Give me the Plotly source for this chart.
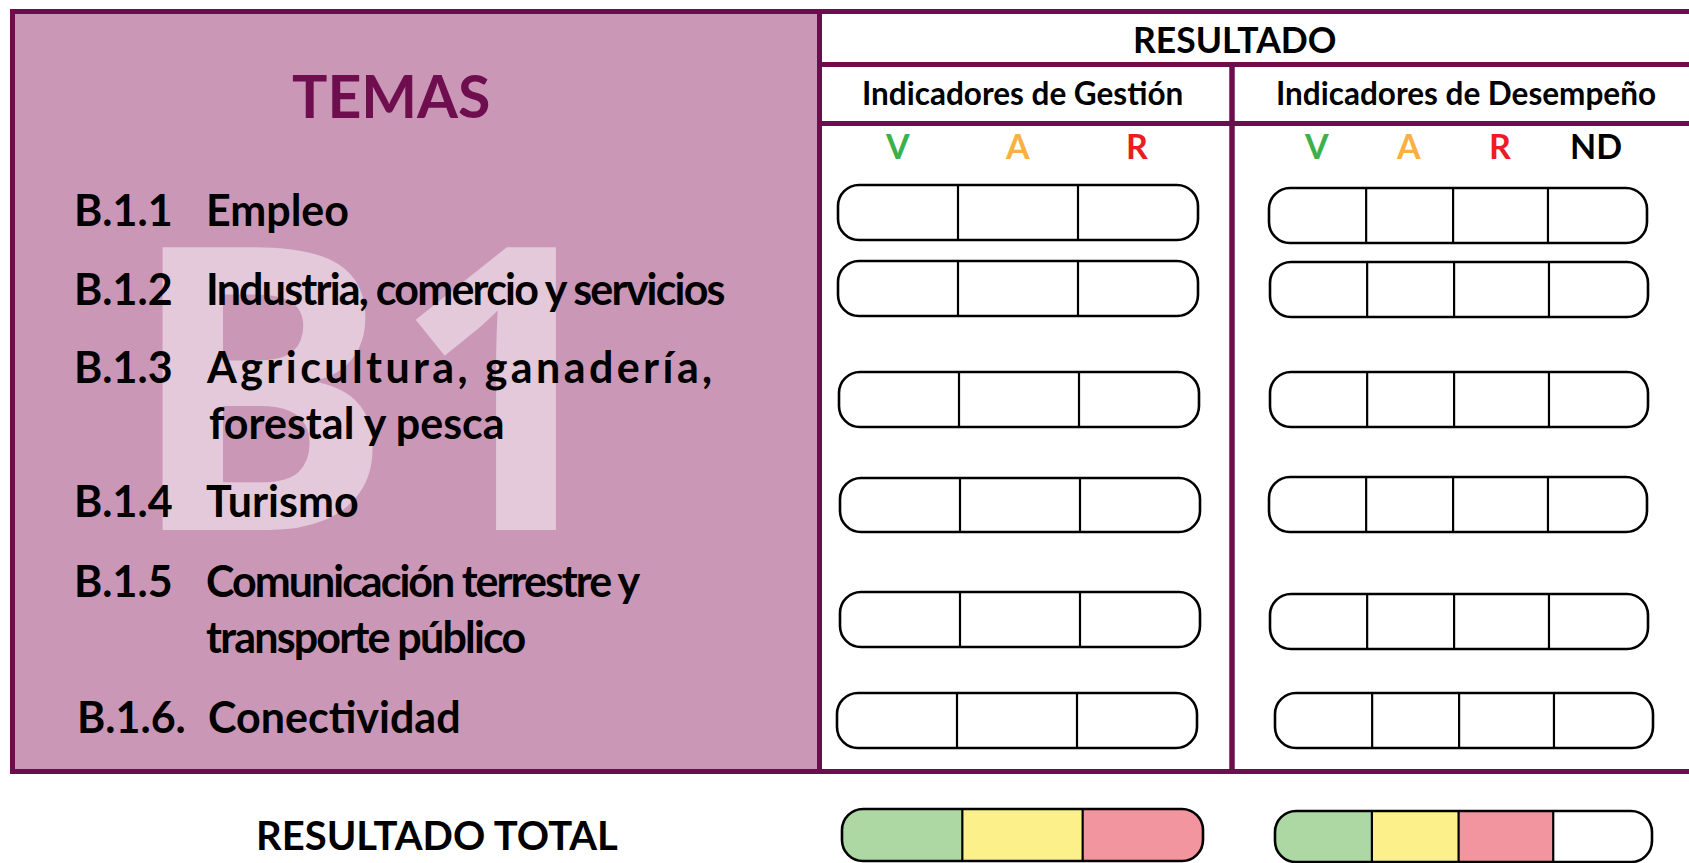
import plotly.graph_objects as go

W, H = 1689, 863

# ---------------- data ----------------
temas_codigos = ["B.1.1", "B.1.2", "B.1.3", "B.1.4", "B.1.5", "B.1.6."]
temas_lineas = [
    ["Empleo"],
    ["Industria, comercio y servicios"],
    ["Agricultura, ganadería,", "forestal y pesca"],
    ["Turismo"],
    ["Comunicación terrestre y", "transporte público"],
    ["Conectividad"],
]
cats_gestion = ["V", "A", "R"]
cats_desempeno = ["V", "A", "R", "ND"]
cat_colores = {"V": "#3BB149", "A": "#FBB040", "R": "#ED1C24", "ND": "#000000"}
total_gestion = ["#ADD8A3", "#FBF08A", "#F2959E"]
total_desempeno = ["#ADD8A3", "#FBF08A", "#F2959E", "#FFFFFF"]
titulo_temas = "TEMAS"
titulo_resultado = "RESULTADO"
grupos = ["Indicadores de Gestión", "Indicadores de Desempeño"]
etiqueta_total = "RESULTADO TOTAL"
marca_agua = "B1"

# ---------------- layout / style constants ----------------
PURPLE = "#6D0D4B"
PINK = "#CB97B7"
WATER = "#E3C9DA"
FONT = "Lato, Carlito, sans-serif"

rows_g = [(185, 240), (261, 316), (372, 427), (478, 532), (592, 647), (693, 748)]
rows_d = [(188, 243), (262, 317), (372, 427), (477, 532), (594, 649), (693, 748)]
shift_g = [0, 0, 1, 2, 2, -1]
shift_d = [0, 1, 1, 0, 1, 6]
G_X0, G_X1 = 838, 1198
D_X0, D_X1 = 1269, 1647
G_FR = [0, 1/3, 2/3, 1]
D_FR = [0, 0.257, 0.487, 0.738, 1]
text_rows = [[209], [288], [366, 422], [500], [580, 636], [716]]
spacing = {(1, 0): -1.8, (2, 0): 3.4, (4, 0): -2.0, (4, 1): -1.8}
ITEM_SIZE = 43

fig = go.Figure()
fig.add_trace(go.Scatter(x=[0, W], y=[0, H], mode="markers", marker=dict(opacity=0),
                         hoverinfo="skip", showlegend=False))

shapes = []
ann = []


def rpath(x0, y0, x1, y1, r, left=True, right=True):
    k = 0.5523 * r
    p = [f"M{x0+r},{y0}" if left else f"M{x0},{y0}"]
    if right:
        p += [f"L{x1-r},{y0}", f"C{x1-r+k},{y0} {x1},{y0+r-k} {x1},{y0+r}",
              f"L{x1},{y1-r}", f"C{x1},{y1-r+k} {x1-r+k},{y1} {x1-r},{y1}"]
    else:
        p += [f"L{x1},{y0}", f"L{x1},{y1}"]
    if left:
        p += [f"L{x0+r},{y1}", f"C{x0+r-k},{y1} {x0},{y1-r+k} {x0},{y1-r}",
              f"L{x0},{y0+r}", f"C{x0},{y0+r-k} {x0+r-k},{y0} {x0+r},{y0}"]
    else:
        p += [f"L{x0},{y1}"]
    p.append("Z")
    return " ".join(p)


def line(x0, y0, x1, y1, color, w):
    shapes.append(dict(type="line", x0=x0, y0=y0, x1=x1, y1=y1, xref="x", yref="y",
                       line=dict(color=color, width=w)))


def pill(x0, x1, y0, y1, fracs, fills=None, r=21):
    xs = [x0 + f * (x1 - x0) for f in fracs]
    n = len(xs) - 1
    if fills:
        for i in range(n):
            shapes.append(dict(type="path", path=rpath(xs[i], y0, xs[i+1], y1, r, left=(i == 0), right=(i == n-1)),
                               xref="x", yref="y", fillcolor=fills[i], line=dict(width=0)))
    shapes.append(dict(type="path", path=rpath(x0, y0, x1, y1, r), xref="x", yref="y",
                       fillcolor="rgba(0,0,0,0)" if fills else "white", line=dict(color="black", width=2.6)))
    for xv in xs[1:-1]:
        line(xv, y0, xv, y1, "black", 2.2)


# left panel
shapes.append(dict(type="rect", x0=12.5, y0=11.5, x1=819.5, y1=771.5, xref="x", yref="y",
                   fillcolor=PINK, line=dict(width=0)))
line(10, 11.5, W + 5, 11.5, PURPLE, 5)
line(10, 771.5, W + 5, 771.5, PURPLE, 5)
line(12.5, 9, 12.5, 774, PURPLE, 5)
line(819.5, 9, 819.5, 774, PURPLE, 5)
line(819.5, 64.5, W + 5, 64.5, PURPLE, 5)
line(819.5, 123.5, W + 5, 123.5, PURPLE, 5)
line(1232, 64.5, 1232, 774, PURPLE, 5.5)

for i in range(len(temas_codigos)):
    t, b = rows_g[i]
    pill(G_X0 + shift_g[i], G_X1 + shift_g[i], t, b, G_FR)
    t, b = rows_d[i]
    pill(D_X0 + shift_d[i], D_X1 + shift_d[i], t, b, D_FR)

pill(842, 1203, 809, 861, G_FR, fills=total_gestion)
pill(1275, 1652, 811, 862, D_FR, fills=total_desempeno)

# watermark
ann.append(dict(x=374, y=376, text=marca_agua, showarrow=False, xanchor="center", yanchor="middle",
                font=dict(family="Noto Sans, Open Sans, sans-serif", size=396, color=WATER, weight=700)))
# TEMAS
ann.append(dict(x=391, y=95, text=titulo_temas, showarrow=False, xanchor="center", yanchor="middle",
                font=dict(family=FONT, size=59, color="#6E0E4E", weight=700)))
# items
for r_i, (code, lines_, ys) in enumerate(zip(temas_codigos, temas_lineas, text_rows)):
    last = code.endswith(".")
    cx = 75 if last else 72
    nx = 206 if last else 204
    ann.append(dict(x=cx, y=ys[0], text=code, showarrow=False, xanchor="left", yanchor="middle",
                    font=dict(family=FONT, size=ITEM_SIZE, color="black", weight=700)))
    for l_i, (ln, yv) in enumerate(zip(lines_, ys)):
        ls = spacing.get((r_i, l_i))
        txt = f'<span style="letter-spacing:{ls}px">{ln}</span>' if ls is not None else ln
        ann.append(dict(x=nx + (3 if (r_i, l_i) == (2, 1) else 0), y=yv, text=txt, showarrow=False,
                        xanchor="left", yanchor="middle",
                        font=dict(family=FONT, size=ITEM_SIZE, color="black", weight=700)))

# headers
ann.append(dict(x=1234, y=39, text=titulo_resultado, showarrow=False, xanchor="center", yanchor="middle",
                font=dict(family=FONT, size=35.5, color="black", weight=700)))
ann.append(dict(x=1022, y=93, text=grupos[0], showarrow=False, xanchor="center", yanchor="middle",
                font=dict(family=FONT, size=31.5, color="black", weight=700)))
ann.append(dict(x=1466, y=93, text=grupos[1], showarrow=False, xanchor="center", yanchor="middle",
                font=dict(family=FONT, size=31.5, color="black", weight=700)))

for cats, x0, x1, fr in [(cats_gestion, G_X0, G_X1, G_FR), (cats_desempeno, D_X0, D_X1, D_FR)]:
    for j, c in enumerate(cats):
        xc = x0 + (fr[j] + fr[j+1]) / 2 * (x1 - x0)
        ann.append(dict(x=xc - 1, y=145, text=c, showarrow=False, xanchor="center", yanchor="middle",
                        font=dict(family=FONT, size=34, color=cat_colores[c], weight=700)))

ann.append(dict(x=437, y=835, text=etiqueta_total, showarrow=False, xanchor="center", yanchor="middle",
                font=dict(family=FONT, size=40, color="black", weight=700)))

fig.update_layout(
    width=W, height=H,
    margin=dict(l=0, r=0, t=0, b=0),
    paper_bgcolor="white", plot_bgcolor="white",
    xaxis=dict(range=[0, W], visible=False, fixedrange=True),
    yaxis=dict(range=[H, 0], visible=False, fixedrange=True),
    shapes=shapes, annotations=ann, showlegend=False,
)
fig.write_html("out.html", config={"displayModeBar": False},
               post_script="document.body.style.margin='0';document.body.style.overflow='hidden';")
